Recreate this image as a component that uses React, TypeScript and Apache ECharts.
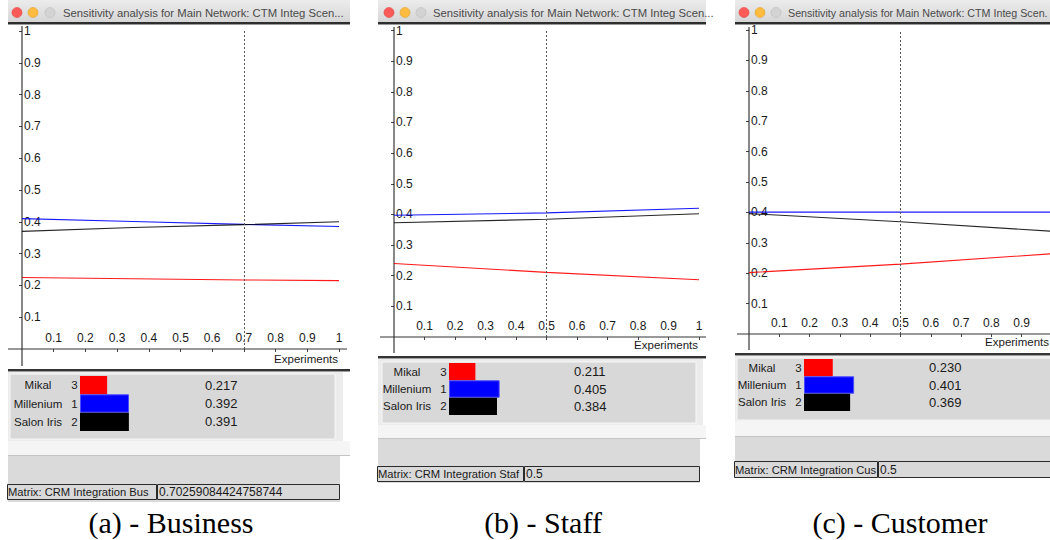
import React, { useEffect, useRef } from "react";
import * as echarts from "echarts";

// ---------- data ----------
const alternatives = ["Mikal", "Millenium", "Salon Iris"];
const ranks = [3, 1, 2];
const seriesColors = ["#ff0000", "#0000ff", "#000000"];

const windowTitles = [
  "Sensitivity analysis for Main Network: CTM Integ Scen...",
  "Sensitivity analysis for Main Network: CTM Integ Scen...",
  "Sensitivity analysis for Main Network: CTM Integ Scen.",
];
const captions = ["(a) - Business", "(b) - Staff", "(c) - Customer"];
const matrixLabels = [
  "Matrix: CRM Integration Bus",
  "Matrix: CRM Integration Staf",
  "Matrix: CRM Integration Cus",
];
const currentValueText = ["0.70259084424758744", "0.5", "0.5"];
const currentValues = [0.70259084424758744, 0.5, 0.5];
const axisName = "Experiments";

const businessX = [0, 0.35, 0.7, 1];
const businessMikal = [0.225, 0.221, 0.217, 0.215];
const businessMillenium = [0.41, 0.401, 0.392, 0.385];
const businessSalonIris = [0.37, 0.382, 0.391, 0.4];

const staffX = [0, 0.5, 1];
const staffMikal = [0.24, 0.211, 0.187];
const staffMillenium = [0.397, 0.405, 0.42];
const staffSalonIris = [0.373, 0.384, 0.402];

const customerX = [0, 0.5, 1];
const customerMikal = [0.202, 0.23, 0.264];
const customerMillenium = [0.401, 0.401, 0.401];
const customerSalonIris = [0.396, 0.369, 0.338];

const businessScores = [0.217, 0.392, 0.391];
const staffScores = [0.211, 0.405, 0.384];
const customerScores = [0.23, 0.401, 0.369];

const panelX = [businessX, staffX, customerX];
const panelLines = [
  [businessMikal, businessMillenium, businessSalonIris],
  [staffMikal, staffMillenium, staffSalonIris],
  [customerMikal, customerMillenium, customerSalonIris],
];
const panelScores = [businessScores, staffScores, customerScores];

// ---------- layout (positions / styles) ----------
const L = [
  { winL: 8, winR: 350, lights: [17, 33, 50], titleX: 63, titleFs: 11.3, plotL: 22, plotW: 317, plotT: 31, plotB: 349, yTop: 26, yBot: 366, xL: 8, xR: 347, expY: 359, expR: 338, sepY: 369, boxL: 10, boxR: 335, boxT: 374, boxB: 439, lightR: 343, bandT: 441, lineY: 455, lowR: 340, lowB: 502, tbT: 484, tbB: 499, tbMid: 157, tbR: 340, barL: 80, barT: 376, barH: 55, capX: 171 },
  { winL: 378, winR: 706, lights: [389, 405, 421], titleX: 433, titleFs: 11.3, plotL: 394, plotW: 305, plotT: 30.5, plotB: 337, yTop: 27, yBot: 353, xL: 380, xR: 706, expY: 345, expR: 698, sepY: 356, boxL: 382, boxR: 696, boxT: 362, boxB: 423, lightR: 703, bandT: 425, lineY: 438, lowR: 700, lowB: 483, tbT: 466, tbB: 481, tbMid: 524, tbR: 700, barL: 449, barT: 363, barH: 52, capX: 543 },
  { winL: 735, winR: 1050, lights: [744, 760, 776], titleX: 788, titleFs: 10.7, plotL: 749, plotW: 303, plotT: 30, plotB: 334, yTop: 27, yBot: 350, xL: 737, xR: 1050, expY: 342, expR: 1049, sepY: 353, boxL: 737, boxR: 1052, boxT: 358, boxB: 420, lightR: 1052, bandT: 421, lineY: 436, lowR: 1052, lowB: 478, tbT: 461, tbB: 477, tbMid: 878, tbR: 1053, barL: 804, barT: 359, barH: 52, capX: 900 },
];

const SANS = '"Liberation Sans", Arial, sans-serif';
const fmt = (v: number) => (Math.abs(v) < 1e-9 ? "" : String(+v.toFixed(1)));

function buildGraphics() {
  const g: any[] = [];
  const rect = (x: number, y: number, w: number, h: number, style: any) =>
    g.push({ type: "rect", shape: { x, y, width: w, height: h }, style, silent: true, z: -5 });
  const line = (x1: number, y1: number, x2: number, y2: number, stroke: string, lw = 1, z = 1) =>
    g.push({ type: "line", shape: { x1, y1, x2, y2 }, style: { stroke, lineWidth: lw }, silent: true, z });
  const text = (x: number, y: number, t: string, font: string, align: string, fill = "#1a1a1a", z = 1) =>
    g.push({
      type: "text", x, y, z, silent: true,
      style: { text: t, font, fill, textAlign: align, textVerticalAlign: "middle", align, verticalAlign: "middle" },
    });

  L.forEach((p, i) => {
    // title bar
    rect(p.winL, 0, p.winR - p.winL, 22, {
      fill: new echarts.graphic.LinearGradient(0, 0, 0, 1, [
        { offset: 0, color: "#ececec" },
        { offset: 1, color: "#d6d6d6" },
      ]),
    });
    rect(p.winL, 22, p.winR - p.winL, 2, { fill: "#2e2e2e" });
    rect(p.winL, 24, p.winR - p.winL, 1, { fill: "#9a9a9a" });
    const lightFill = ["#fc5b57", "#fdbb3f", "#d3d3d3"];
    const lightStroke = ["#de4641", "#dea234", "#bcbcbc"];
    p.lights.forEach((cx, k) =>
      g.push({ type: "circle", shape: { cx, cy: 12.5, r: 5 }, style: { fill: lightFill[k], stroke: lightStroke[k], lineWidth: 0.6 }, silent: true, z: 1 })
    );
    text(p.titleX, 13, windowTitles[i], `${p.titleFs}px ${SANS}`, "left", "#4a4a4a");

    // axis lines
    line(p.plotL, p.yTop, p.plotL, p.yBot, "#111", 1);
    line(p.xL, p.plotB, p.xR, p.plotB, "#333", 1);
    text(p.expR, p.expY, axisName, `11.5px ${SANS}`, "right", "#1a1a1a");

    // separator
    rect(p.winL, p.sepY, p.winR - p.winL, 2, { fill: "#333333" });
    rect(p.winL, p.sepY + 2, p.winR - p.winL, 1, { fill: "#a0a0a0" });

    // score panel
    rect(p.winL, p.sepY + 3, p.lightR - p.winL, p.lineY - p.sepY - 3, { fill: "#ececec" });
    rect(p.boxL, p.boxT, p.boxR - p.boxL, p.boxB - p.boxT, { fill: "#d8d8d8", stroke: "#f7f7f7", lineWidth: 1 });
    rect(p.winL, p.bandT, p.winR - p.winL, p.lineY - p.bandT, { fill: "#f5f5f5" });
    line(p.winL, p.lineY + 0.5, p.winR, p.lineY + 0.5, "#c4c4c4", 1);

    // lower panel with text boxes
    rect(p.winL, p.lineY + 1, p.lowR - p.winL, p.lowB - p.lineY - 1, { fill: "#dadada" });
    g.push({ type: "rect", shape: { x: p.winL - 0.5, y: p.tbT + 0.5, width: p.tbMid - p.winL, height: p.tbB - p.tbT }, style: { fill: "#d9d9d9", stroke: "#2a2a2a", lineWidth: 1 }, silent: true, z: 0 });
    g.push({ type: "rect", shape: { x: p.tbMid + 0.5, y: p.tbT + 0.5, width: p.tbR - p.tbMid - 1, height: p.tbB - p.tbT }, style: { fill: "#d9d9d9", stroke: "#2a2a2a", lineWidth: 1 }, silent: true, z: 0 });
    text(p.winL, (p.tbT + p.tbB) / 2 + 0.5, matrixLabels[i], `11.2px ${SANS}`, "left", "#1a1a1a", 2);
    text(p.tbMid + 2, (p.tbT + p.tbB) / 2 + 0.5, currentValueText[i], `12px ${SANS}`, "left", "#1a1a1a", 2);

    // caption
    text(p.capX, 522, captions[i], '30px "Liberation Serif", "Times New Roman", serif', "center", "#000", 2);
  });
  return g;
}

function buildOption() {
  const grid: any[] = [];
  const xAxis: any[] = [];
  const yAxis: any[] = [];
  const series: any[] = [];

  L.forEach((p, i) => {
    grid.push({ left: p.plotL, top: p.plotT, width: p.plotW, height: p.plotB - p.plotT, containLabel: false, outerBoundsMode: "none" });
    xAxis.push({
      type: "value", gridIndex: i, min: 0, max: 1, interval: 0.1,
      axisLine: { show: false },
      axisTick: { show: true, length: 3, lineStyle: { color: "#444" } },
      splitLine: { show: false },
      axisLabel: { inside: true, margin: 5, fontSize: 12, color: "#1a1a1a", fontFamily: SANS, formatter: fmt, showMinLabel: false, showMaxLabel: i < 2, hideOverlap: false },
    });
    yAxis.push({
      type: "value", gridIndex: i, min: 0, max: 1, interval: 0.1,
      axisLine: { show: false },
      axisTick: { show: true, length: 3, lineStyle: { color: "#444" } },
      splitLine: { show: false },
      axisLabel: { inside: true, margin: 2, fontSize: 12, color: "#1a1a1a", fontFamily: SANS, formatter: fmt, showMinLabel: false },
    });
    panelLines[i].forEach((vals, k) => {
      series.push({
        type: "line", xAxisIndex: i, yAxisIndex: i, name: alternatives[k],
        data: panelX[i].map((x, j) => [x, vals[j]]),
        showSymbol: false, symbol: "none", silent: true,
        lineStyle: { color: seriesColors[k], width: 1.1, opacity: k === 2 ? 0.85 : 0.9 },
        z: 3,
        markLine: k === 0 ? {
          symbol: ["none", "none"], silent: true, label: { show: false },
          lineStyle: { type: [2, 2], color: "#555", width: 1 },
          data: [{ xAxis: currentValues[i] }],
        } : undefined,
      });
    });
  });

  L.forEach((p, i) => {
    const gi = 3 + i;
    grid.push({ left: p.barL, top: p.barT, width: 125, height: p.barH, containLabel: false, outerBoundsMode: "none" });
    xAxis.push({ type: "value", gridIndex: gi, min: 0, max: 1, show: false });
    yAxis.push({
      type: "category", gridIndex: gi, data: alternatives, inverse: true, z: 10,
      axisLine: { show: false }, axisTick: { show: false }, splitLine: { show: false },
      axisLabel: {
        margin: 1, color: "#1a1a1a", fontFamily: SANS, fontSize: 11.5,
        formatter: (v: string, idx: number) => `{n|${v}}{k|${ranks[idx]}}`,
        rich: {
          n: { width: 64, align: "center", fontSize: 11.5, fontFamily: SANS, color: "#1a1a1a" },
          k: { width: 9, align: "left", fontSize: 11.5, fontFamily: SANS, color: "#1a1a1a" },
        },
      },
    });
    series.push({
      type: "bar", xAxisIndex: gi, yAxisIndex: gi, barCategoryGap: "0%",
      silent: true, z: 3,
      data: panelScores[i].map((v, k) => ({
        value: v,
        itemStyle: { color: seriesColors[k], borderColor: k === 1 ? "#4b4bff" : seriesColors[k], borderWidth: k === 1 ? 1 : 0 },
      })),
      label: {
        show: true, position: [125, "50%"], align: "left", verticalAlign: "middle",
        fontSize: 13, fontFamily: SANS, color: "#1a1a1a",
        formatter: (pr: any) => Number(pr.value).toFixed(3),
      },
    });
  });

  return {
    animation: false,
    backgroundColor: "#ffffff",
    textStyle: { fontFamily: SANS },
    grid, xAxis, yAxis, series,
    graphic: { elements: buildGraphics() },
  };
}

export default function App() {
  const ref = useRef<HTMLDivElement>(null);
  useEffect(() => {
    document.body.style.margin = "0";
    const chart = echarts.init(ref.current!, null, { renderer: "svg" });
    chart.setOption(buildOption() as any);
    return () => chart.dispose();
  }, []);
  return <div ref={ref} style={{ width: 1050, height: 540 }} />;
}
